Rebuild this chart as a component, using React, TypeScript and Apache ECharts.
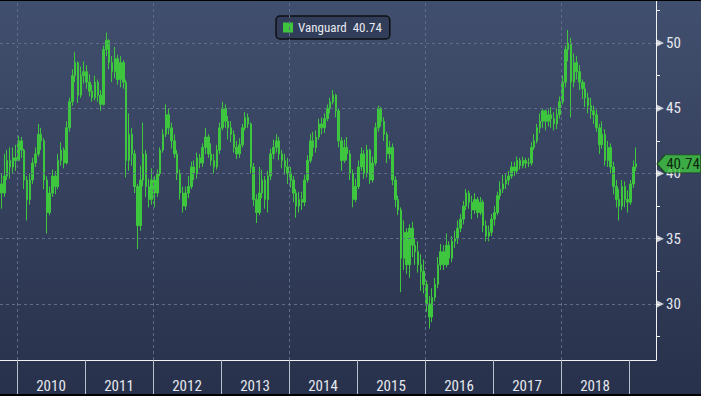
import React, { useEffect, useRef } from 'react';
import * as echarts from 'echarts';

const SERIES_NAME = 'Vanguard';
const LAST_PRICE = 40.74;
const FIRST_OPEN = 39.2;
const START_YEAR = 2009.75;
const END_YEAR = 2019.397;
const BARS_PER_YEAR = 24;
const Y_MIN = 25.7;
const Y_MAX = 53.3;

const YEAR_LABELS = [2010, 2011, 2012, 2013, 2014, 2015, 2016, 2017, 2018];
const YEAR_TICKS = [2010, 2011, 2012, 2013, 2014, 2015, 2016, 2017, 2018, 2019];
const GRID_YEARS = [2010, 2012, 2014, 2016, 2018];
const PRICE_TICKS = [30, 35, 40, 45, 50];
const PRICE_MINOR = [27.5, 30, 32.5, 35, 37.5, 40, 42.5, 45, 47.5, 50, 52.5];

// half-month bars, Oct 2009 .. Feb 2019
const close2009 = [38.5, 39.8, 41.0, 40.5, 41.2, 41.0];
const high2009 = [40.0, 41.5, 41.8, 42.0, 42.0, 42.2];
const low2009 = [37.3, 38.2, 39.5, 39.6, 40.0, 40.2];

const close2010 = [42.5, 41.8, 39.5, 38.0, 39.5, 40.8, 41.5, 43.0, 42.5, 39.5, 37.0, 38.5, 39.8, 39.0, 41.0, 41.8, 40.8, 43.5, 45.5, 47.5, 48.5, 46.0, 47.5, 47.8];
const high2010 = [42.9, 42.8, 41.9, 39.8, 40.0, 41.2, 42.0, 43.8, 43.5, 42.7, 39.8, 39.0, 40.3, 40.2, 41.5, 42.4, 42.0, 44.0, 45.8, 48.0, 49.3, 48.6, 48.2, 48.6];
const low2010 = [41.0, 41.2, 38.8, 36.4, 37.6, 39.2, 40.5, 41.3, 41.8, 38.8, 35.4, 36.8, 38.2, 38.4, 38.8, 40.6, 40.4, 40.7, 43.2, 45.2, 47.0, 45.4, 45.8, 46.9];

const close2011 = [47.0, 46.3, 45.8, 47.0, 46.0, 45.3, 49.5, 50.2, 48.5, 47.8, 48.8, 47.2, 48.5, 47.0, 41.0, 43.0, 41.5, 39.0, 36.0, 39.5, 41.5, 39.0, 38.0, 39.5];
const high2011 = [48.3, 47.6, 46.8, 47.5, 47.2, 46.4, 49.8, 50.8, 50.3, 49.0, 49.7, 49.1, 49.0, 48.7, 47.2, 44.6, 43.5, 41.8, 39.2, 40.6, 43.9, 41.8, 39.6, 40.4];
const low2011 = [46.5, 45.9, 45.5, 45.6, 45.5, 44.8, 45.2, 49.0, 48.0, 47.0, 47.3, 46.8, 46.6, 46.5, 39.7, 40.2, 40.6, 38.5, 34.2, 35.6, 39.0, 38.2, 37.4, 37.6];

const close2012 = [38.5, 40.0, 41.8, 43.0, 44.5, 43.5, 42.5, 41.5, 40.0, 38.5, 37.5, 38.5, 39.0, 40.5, 40.0, 41.2, 40.8, 42.0, 42.8, 41.5, 41.0, 40.5, 41.8, 43.5];
const high2012 = [39.8, 40.3, 42.0, 43.4, 45.3, 45.0, 43.9, 43.0, 41.8, 40.3, 39.0, 39.0, 39.8, 40.9, 41.0, 41.6, 41.5, 42.3, 43.5, 43.0, 42.3, 41.5, 42.2, 43.9];
const low2012 = [37.4, 38.2, 39.8, 41.6, 42.8, 43.0, 41.9, 41.2, 39.5, 38.0, 37.0, 37.2, 38.1, 38.8, 39.5, 39.6, 40.4, 40.5, 41.5, 41.2, 40.6, 40.0, 40.3, 41.5];

const close2013 = [45.0, 44.0, 43.5, 43.0, 42.0, 41.5, 42.2, 43.5, 44.3, 43.8, 40.5, 38.0, 37.0, 38.5, 39.5, 38.0, 39.8, 41.5, 42.0, 42.5, 41.5, 41.0, 40.5, 40.0];
const high2013 = [45.5, 45.3, 44.4, 44.0, 43.3, 42.5, 42.7, 43.8, 44.7, 44.6, 43.9, 40.8, 38.4, 40.5, 40.3, 39.8, 40.2, 41.9, 42.6, 43.0, 42.8, 41.8, 41.5, 41.2];
const low2013 = [43.3, 43.5, 42.6, 42.4, 41.6, 41.1, 41.2, 42.0, 43.3, 43.5, 40.0, 37.5, 36.2, 36.8, 38.1, 37.3, 37.0, 39.5, 41.1, 41.6, 41.0, 40.4, 39.9, 39.2];

const close2014 = [39.5, 38.5, 37.5, 38.0, 37.8, 39.5, 41.0, 42.5, 42.0, 42.8, 43.8, 43.5, 44.2, 45.0, 45.5, 46.0, 44.8, 42.5, 41.0, 42.0, 41.5, 40.0, 38.0, 39.0];
const high2014 = [40.5, 39.8, 38.8, 38.6, 38.6, 39.9, 41.4, 43.0, 43.2, 43.3, 44.2, 44.3, 44.6, 45.3, 45.8, 46.4, 46.1, 45.0, 42.8, 42.6, 42.8, 41.8, 40.3, 39.6];
const low2014 = [38.9, 37.8, 36.6, 37.0, 37.2, 37.5, 39.3, 40.8, 41.3, 41.6, 42.6, 43.0, 43.1, 44.0, 44.6, 45.3, 44.3, 42.0, 40.2, 40.8, 41.0, 39.5, 37.4, 37.8];

const close2015 = [40.5, 41.5, 40.0, 41.8, 39.5, 40.8, 43.5, 45.0, 44.0, 43.0, 41.5, 42.0, 39.5, 38.0, 37.2, 33.5, 35.5, 33.0, 35.8, 34.5, 34.0, 33.0, 32.5, 31.5];
const high2015 = [41.0, 42.0, 41.8, 42.2, 41.9, 41.3, 43.9, 45.2, 45.1, 44.3, 43.2, 42.5, 42.3, 39.8, 38.3, 37.4, 36.4, 35.8, 36.1, 36.3, 35.0, 34.8, 33.8, 33.4];
const low2015 = [38.8, 40.2, 39.6, 39.7, 39.2, 39.3, 40.6, 43.2, 43.6, 42.5, 40.8, 41.1, 39.1, 37.4, 36.8, 30.9, 32.6, 32.3, 32.0, 33.6, 33.0, 32.4, 31.0, 30.8];

const close2016 = [30.0, 29.0, 30.5, 31.5, 33.0, 34.0, 33.0, 34.5, 33.5, 34.8, 35.0, 35.8, 36.5, 37.5, 38.5, 37.8, 37.2, 38.0, 37.0, 37.8, 36.0, 35.2, 35.5, 36.5];
const high2016 = [31.8, 30.6, 31.2, 32.0, 33.6, 34.6, 34.5, 35.4, 34.8, 35.2, 35.6, 36.4, 36.9, 37.9, 38.8, 38.7, 38.3, 38.5, 38.2, 38.2, 38.0, 36.4, 36.0, 36.9];
const low2016 = [29.4, 28.1, 28.6, 30.2, 31.2, 32.6, 32.6, 32.8, 33.0, 33.2, 34.3, 34.6, 35.5, 36.1, 37.2, 37.3, 36.5, 36.9, 36.6, 36.8, 35.5, 34.8, 34.8, 35.2];

const close2017 = [37.0, 38.3, 38.8, 39.2, 39.5, 39.8, 40.5, 40.2, 41.0, 40.6, 41.0, 40.8, 40.8, 42.0, 42.5, 43.5, 44.0, 44.8, 44.0, 44.5, 44.2, 43.8, 44.5, 45.5];
const high2017 = [37.5, 38.6, 39.4, 39.9, 40.0, 40.2, 40.9, 40.9, 41.3, 41.2, 41.3, 41.2, 41.2, 42.4, 43.0, 43.8, 44.6, 45.0, 44.9, 44.9, 45.1, 44.7, 45.0, 45.9];
const low2017 = [36.0, 36.8, 38.0, 38.5, 38.8, 39.1, 39.6, 39.8, 40.0, 40.3, 40.4, 40.4, 40.5, 40.6, 41.8, 42.3, 43.1, 43.5, 43.3, 43.6, 43.5, 43.3, 43.4, 44.2];

const close2018 = [47.0, 49.5, 50.0, 47.0, 48.5, 47.8, 47.0, 46.5, 45.8, 45.2, 44.8, 44.5, 43.5, 42.2, 43.0, 41.0, 42.0, 40.5, 39.0, 38.0, 37.5, 39.0, 38.0, 37.8];
const high2018 = [47.5, 49.8, 51.0, 50.4, 49.2, 49.0, 48.3, 47.2, 47.0, 46.2, 45.8, 45.2, 44.9, 43.8, 44.0, 43.4, 42.5, 42.3, 40.9, 39.5, 38.8, 39.5, 39.4, 38.7];
const low2018 = [45.3, 46.6, 48.6, 44.3, 46.6, 47.2, 46.4, 45.7, 45.1, 44.6, 44.2, 43.8, 43.2, 41.5, 41.9, 40.6, 40.5, 40.0, 38.4, 37.4, 36.4, 37.2, 37.4, 37.0];

const close2019 = [39.2, 40.5, 40.74];
const high2019 = [39.5, 41.0, 42.0];
const low2019 = [37.6, 38.9, 40.2];

const GREEN = '#3fc63f';
const FONT = "'Liberation Sans Narrow', 'Arial Narrow', 'Roboto Condensed', 'Liberation Sans', Arial, sans-serif";
const LABEL_COLOR = '#e6e9ef';
const GRID_COLOR = '#5f6c89';

export default function App() {
  const ref = useRef<HTMLDivElement>(null);

  useEffect(() => {
    if (!ref.current) return;
    const chart = echarts.init(ref.current, null, { renderer: 'svg' });

    const closes = [...close2009, ...close2010, ...close2011, ...close2012, ...close2013, ...close2014, ...close2015, ...close2016, ...close2017, ...close2018, ...close2019];
    const highs = [...high2009, ...high2010, ...high2011, ...high2012, ...high2013, ...high2014, ...high2015, ...high2016, ...high2017, ...high2018, ...high2019];
    const lows = [...low2009, ...low2010, ...low2011, ...low2012, ...low2013, ...low2014, ...low2015, ...low2016, ...low2017, ...low2018, ...low2019];

    const candles = closes.map((c, i) => {
      const o = i === 0 ? FIRST_OPEN : closes[i - 1];
      const h = Math.max(highs[i] ?? c, o, c);
      const l = Math.min(lows[i] ?? c, o, c);
      const x = START_YEAR + (i + 0.5) / BARS_PER_YEAR;
      return [x, o, c, l, h];
    });

    const gridLines = [
      ...GRID_YEARS.map((v) => ({ xAxis: v })),
      ...PRICE_TICKS.map((v) => ({ yAxis: v })),
    ];

    const option: any = {
      animation: false,
      backgroundColor: {
        type: 'linear', x: 0, y: 0, x2: 0, y2: 1,
        colorStops: [
          { offset: 0, color: '#414f6e' },
          { offset: 1, color: '#28314b' },
        ],
      },
      textStyle: { fontFamily: FONT },
      grid: { left: 0, right: 45, top: 0, bottom: 36, containLabel: false },
      legend: {
        show: true,
        left: 276,
        top: 16,
        data: [{ name: SERIES_NAME, icon: 'rect', itemStyle: { color: GREEN, borderWidth: 0 } }],
        itemWidth: 10,
        itemHeight: 10,
        itemGap: 0,
        formatter: (name: string) => `${name}  ${LAST_PRICE.toFixed(2)}`,
        textStyle: { color: LABEL_COLOR, fontSize: 13, fontFamily: FONT },
        backgroundColor: '#313d59',
        borderColor: '#0d0f14',
        borderWidth: 1.5,
        borderRadius: 4,
        padding: [5, 8, 5, 7],
        selectedMode: false,
      },
      xAxis: {
        type: 'value',
        min: START_YEAR,
        max: END_YEAR,
        axisLine: { show: true, lineStyle: { color: '#f2f2f2', width: 1 } },
        axisTick: { show: true, customValues: YEAR_TICKS, length: 34, lineStyle: { color: '#b9c0cd' } },
        axisLabel: {
          customValues: YEAR_LABELS.map((y) => y + 0.5),
          formatter: (v: number) => String(Math.floor(v)),
          color: LABEL_COLOR,
          fontSize: 15,
          fontFamily: FONT,
          margin: 18,
        },
        splitLine: { show: false },
      },
      yAxis: {
        type: 'value',
        position: 'right',
        min: Y_MIN,
        max: Y_MAX,
        axisLine: { show: true, lineStyle: { color: '#f2f2f2', width: 1 } },
        axisTick: { show: true, customValues: PRICE_MINOR, length: 4, lineStyle: { color: '#f2f2f2' } },
        axisLabel: {
          customValues: PRICE_TICKS,
          color: LABEL_COLOR,
          fontSize: 15,
          fontFamily: FONT,
          margin: 10,
        },
        splitLine: { show: false },
      },
      graphic: [
        { type: 'rect', left: 0, top: 0, shape: { width: 701, height: 1 }, style: { fill: '#000' }, z: 100 },
        { type: 'rect', left: 0, top: 394, shape: { width: 701, height: 2 }, style: { fill: '#000' }, z: 100 },
      ],
      series: [
        {
          type: 'line',
          name: 'grid',
          data: [],
          z: 1,
          silent: true,
          markLine: {
            silent: true,
            symbol: 'none',
            label: { show: false },
            lineStyle: { color: GRID_COLOR, type: [3, 3], width: 1 },
            data: gridLines,
          },
        },
        {
          type: 'candlestick',
          name: SERIES_NAME,
          z: 3,
          barWidth: 2,
          data: candles,
          itemStyle: {
            color: GREEN,
            color0: GREEN,
            borderColor: GREEN,
            borderColor0: GREEN,
            borderWidth: 1,
          },
        },
        {
          type: 'scatter',
          name: 'ticks',
          z: 5,
          silent: true,
          clip: false,
          symbol: 'triangle',
          symbolRotate: -90,
          symbolSize: [8, 8],
          symbolOffset: [4, 0],
          itemStyle: { color: '#f2f2f2' },
          data: PRICE_TICKS.map((v) => [END_YEAR, v]),
        },
        {
          type: 'scatter',
          name: 'tag',
          z: 10,
          silent: true,
          clip: false,
          symbol: 'path://M0,9L8,0L44,0L44,18L8,18Z',
          symbolKeepAspect: false,
          symbolSize: [44, 18],
          symbolOffset: [23, 0],
          itemStyle: { color: GREEN, borderColor: '#173d17', borderWidth: 1 },
          label: {
            show: true,
            position: 'inside',
            offset: [4, 0],
            formatter: () => LAST_PRICE.toFixed(2),
            color: '#000',
            fontSize: 15,
            fontFamily: FONT,
          },
          data: [[END_YEAR, LAST_PRICE]],
        },
      ],
    };

    chart.setOption(option);
    return () => chart.dispose();
  }, []);

  return (
    <div
      ref={ref}
      style={{ position: 'fixed', left: 0, top: 0, width: 701, height: 396 }}
    />
  );
}
